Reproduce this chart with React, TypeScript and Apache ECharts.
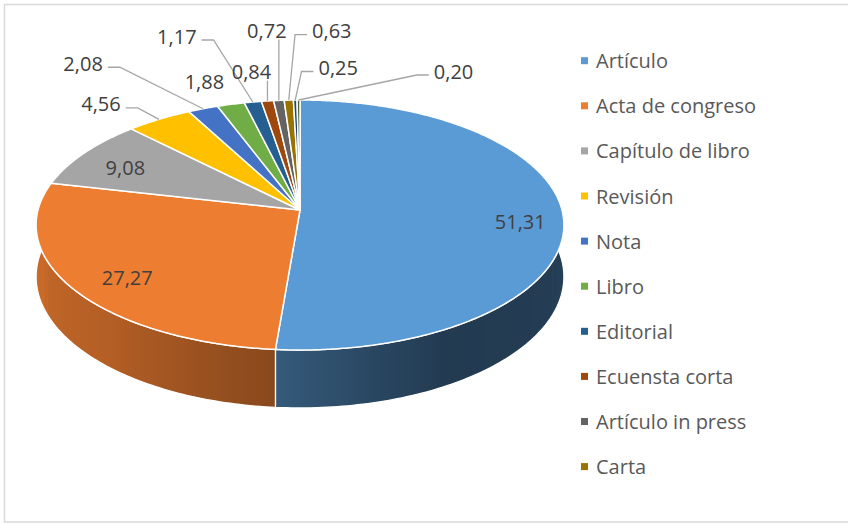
import React, { useEffect, useRef } from "react";
import * as echarts from "echarts";

// ---------- data ----------
const categories = [
  "Artículo",
  "Acta de congreso",
  "Capítulo de libro",
  "Revisión",
  "Nota",
  "Libro",
  "Editorial",
  "Ecuensta corta",
  "Artículo in press",
  "Carta",
  "Otro 1",
  "Otro 2",
];
const values = [51.31, 27.27, 9.08, 4.56, 2.08, 1.88, 1.17, 0.84, 0.72, 0.63, 0.25, 0.2];
const legendNames = categories.slice(0, 10);

// ---------- styles ----------
const sliceColors = [
  "#5B9BD5",
  "#ED7D31",
  "#A5A5A5",
  "#FFC000",
  "#4472C4",
  "#70AD47",
  "#255E91",
  "#9E480E",
  "#636363",
  "#997300",
  "#264478",
  "#43682B",
];
const FONT = "Open Sans";
const FONT_SIZE = 20;

// 3D pie projection parameters
const CX = 300;
const CY = 210;
const RX = 262;
const RY = 123.2;
const PERSP = 0.12;
const DEPTH = 51;

// wall shading (angle in degrees clockwise from top, brightness factor)
const wallShade: [number, number][] = [
  [80, 0.42],
  [100, 0.4],
  [150, 0.38],
  [165, 0.45],
  [185, 0.58],
  [222, 0.76],
  [265, 0.85],
  [285, 0.87],
];

// label placement: radius fraction of anchor, text offset from anchor, leader type
const labelPlacement: { r: number; dx: number; dy: number; line: string }[] = [
  { r: 0.8, dx: 10, dy: 7.5, line: "none" },
  { r: 0.8, dx: 6.6, dy: 5.8, line: "none" },
  { r: 0.8, dx: 0, dy: 4, line: "none" },
  { r: 1, dx: -58, dy: -15.5, line: "h" },
  { r: 1, dx: -120, dy: -45.5, line: "h" },
  { r: 1, dx: -26.5, dy: -22.7, line: "none" },
  { r: 1, dx: -76, dy: -66, line: "h" },
  { r: 1, dx: -16, dy: -29.3, line: "v" },
  { r: 1, dx: -12, dy: -70, line: "v" },
  { r: 1, dx: 43, dy: -69.5, line: "h" },
  { r: 1, dx: 43, dy: -32.5, line: "h" },
  { r: 1, dx: 155, dy: -29, line: "h" },
];

const total = values.reduce((s, v) => s + v, 0);
const cumulative: number[] = [];
values.reduce((s, v) => {
  cumulative.push(s);
  return s + v;
}, 0);

function project(thetaDeg: number, r: number, drop: number): [number, number] {
  const t = (thetaDeg * Math.PI) / 180;
  const u = r * Math.sin(t);
  const v = -r * Math.cos(t);
  const p = 1 / (1 - PERSP * v);
  return [CX + RX * u * p, CY + (RY * v + drop) * p];
}

function shadeAt(theta: number): number {
  if (theta <= wallShade[0][0]) return wallShade[0][1];
  for (let i = 1; i < wallShade.length; i++) {
    const [a, fa] = wallShade[i - 1];
    const [b, fb] = wallShade[i];
    if (theta <= b) return fa + ((fb - fa) * (theta - a)) / (b - a);
  }
  return wallShade[wallShade.length - 1][1];
}

function darken(hex: string, f: number): string {
  const n = parseInt(hex.slice(1), 16);
  const r = Math.round(((n >> 16) & 255) * f);
  const g = Math.round(((n >> 8) & 255) * f);
  const b = Math.round((n & 255) * f);
  return `rgb(${r},${g},${b})`;
}

let measureCtx: CanvasRenderingContext2D | null = null;
function textWidth(s: string): number {
  if (!measureCtx) measureCtx = document.createElement("canvas").getContext("2d");
  if (!measureCtx) return s.length * FONT_SIZE * 0.55;
  measureCtx.font = `${FONT_SIZE}px "${FONT}"`;
  return measureCtx.measureText(s).width;
}

const fmt = (v: number) => v.toFixed(2).replace(".", ",");

export default function App() {
  const ref = useRef<HTMLDivElement>(null);

  useEffect(() => {
    if (!ref.current) return;
    const chart = echarts.init(ref.current, undefined, { renderer: "svg" });

    const renderItem = (params: any, api: any) => {
      const i = params.dataIndex;
      const val = api.value(0) as number;
      const startV = api.value(1) as number;
      const a0 = (startV / total) * 360;
      const a1 = ((startV + val) / total) * 360;
      const color = sliceColors[i];
      const children: any[] = [];

      // top face
      const steps = Math.max(2, Math.ceil((a1 - a0) / 0.5));
      const topPts: number[][] = [project(a0, 0, 0)];
      for (let k = 0; k <= steps; k++) topPts.push(project(a0 + ((a1 - a0) * k) / steps, 1, 0));
      children.push({
        type: "polygon",
        shape: { points: topPts },
        style: { fill: color, stroke: "#ffffff", lineWidth: 1.5, lineJoin: "round" },
        z2: 10,
      });

      // outer wall (front part only)
      const w0 = Math.max(a0, 80);
      const w1 = Math.min(a1, 280);
      if (w1 > w0) {
        const ws = Math.max(2, Math.ceil((w1 - w0) / 1));
        const upper: number[][] = [];
        const lower: number[][] = [];
        const samples: { x: number; f: number }[] = [];
        for (let k = 0; k <= ws; k++) {
          const th = w0 + ((w1 - w0) * k) / ws;
          const pt = project(th, 1, 0);
          upper.push(pt);
          lower.push(project(th, 1, DEPTH));
          samples.push({ x: pt[0], f: shadeAt(th) });
        }
        const xs = samples.map((s) => s.x);
        const xmin = Math.min(...xs);
        const xmax = Math.max(...xs);
        const stops = samples
          .map((s) => ({ offset: (s.x - xmin) / Math.max(1, xmax - xmin), color: darken(color, s.f) }))
          .sort((p, q) => p.offset - q.offset);
        children.push({
          type: "polygon",
          shape: { points: upper.concat(lower.reverse()) },
          style: {
            fill: {
              type: "linear",
              x: xmin,
              y: 0,
              x2: xmax,
              y2: 0,
              global: true,
              colorStops: stops,
            },
            stroke: "#ffffff",
            lineWidth: 1.3,
          },
          z2: 1,
        });
      }

      // label
      const lp = labelPlacement[i];
      const mid = (a0 + a1) / 2;
      const anchor = project(mid, lp.r, 0);
      const tx = anchor[0] + lp.dx;
      const ty = anchor[1] + lp.dy;
      const text = fmt(val);
      children.push({
        type: "text",
        x: tx,
        y: ty,
        style: {
          text,
          fill: "#404040",
          fontSize: FONT_SIZE,
          fontFamily: FONT,
          align: "center",
          verticalAlign: "middle",
        },
        z2: 30,
      });
      if (lp.line !== "none") {
        const edge = project(mid, 1, 0);
        const w = textWidth(text);
        let pts: number[][];
        if (lp.line === "h") {
          const ly = ty + 4;
          if (edge[0] > tx) {
            const sx = tx + w / 2 + 5;
            pts = [[sx, ly], [sx + 12, ly], edge];
          } else {
            const sx = tx - w / 2 - 5;
            pts = [[sx, ly], [sx - 12, ly], edge];
          }
        } else {
          pts = [[edge[0], ty + 9], edge];
        }
        children.push({
          type: "polyline",
          shape: { points: pts },
          style: { stroke: "#A6A6A6", lineWidth: 1.3, fill: null },
          z2: 20,
        });
      }

      return { type: "group", children };
    };

    chart.setOption({
      animation: false,
      color: sliceColors,
      textStyle: { fontFamily: FONT },
      legend: {
        orient: "vertical",
        left: 581,
        top: 50.7,
        padding: 0,
        itemWidth: 7,
        itemHeight: 7,
        icon: "rect",
        itemGap: 25.1,
        selectedMode: false,
        data: legendNames,
        textStyle: {
          fontFamily: FONT,
          fontSize: FONT_SIZE,
          color: "#595959",
          lineHeight: 20,
          padding: [0, 0, 0, 3],
        },
      },
      graphic: [
        {
          type: "rect",
          silent: true,
          z: -10,
          shape: { x: 4.5, y: 4.5, width: 860, height: 517.5 },
          style: { fill: "none", stroke: "#D9D9D9", lineWidth: 1.5 },
        },
      ],
      series: [
        {
          type: "pie",
          silent: true,
          radius: 1,
          center: [-50, -50],
          label: { show: false },
          labelLine: { show: false },
          data: categories.map((name, i) => ({
            name,
            value: values[i],
            itemStyle: { color: sliceColors[i] },
          })),
        },
        {
          type: "custom",
          coordinateSystem: "none",
          silent: true,
          renderItem,
          data: values.map((v, i) => [v, cumulative[i]]),
        },
      ],
    });

    return () => chart.dispose();
  }, []);

  return (
    <div
      ref={ref}
      style={{ position: "fixed", left: 0, top: 0, width: 848, height: 524, background: "#ffffff" }}
    />
  );
}
